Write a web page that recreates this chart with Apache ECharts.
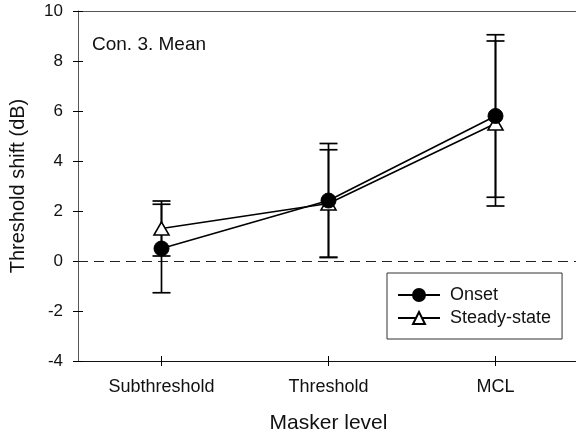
<!DOCTYPE html>
<html>
<head>
<meta charset="utf-8">
<script src="https://cdn.jsdelivr.net/npm/echarts@6/dist/echarts.min.js"></script>
<style>html,body{margin:0;padding:0;background:#fff}#c{width:576px;height:435px}</style>
</head>
<body>
<div id="c"></div>
<script>
var categories = ['Subthreshold', 'Threshold', 'MCL'];
var onsetMean = [0.5, 2.42, 5.8];
var onsetErr = [1.77, 2.28, 3.25];
var steadyMean = [1.3, 2.3, 5.5];
var steadyErr = [1.1, 2.15, 3.3];
var yTicks = {min: -4, max: 10, interval: 2};
var zeroLine = [0];

var FONT = 'Liberation Sans, Arial, sans-serif';
var chart = echarts.init(document.getElementById('c'), null, {renderer: 'canvas'});

function errData(mean, err) {
  return mean.map(function (m, i) { return [i, m - err[i], m + err[i]]; });
}
function renderErr(params, api) {
  var x = api.value(0);
  var lo = api.coord([x, api.value(1)]);
  var hi = api.coord([x, api.value(2)]);
  var hw = 9;
  var st = {stroke: '#000', lineWidth: 1.7};
  return {
    type: 'group',
    children: [
      {type: 'line', shape: {x1: lo[0], y1: lo[1], x2: hi[0], y2: hi[1]}, style: st},
      {type: 'line', shape: {x1: lo[0] - hw, y1: lo[1], x2: lo[0] + hw, y2: lo[1]}, style: st},
      {type: 'line', shape: {x1: hi[0] - hw, y1: hi[1], x2: hi[0] + hw, y2: hi[1]}, style: st}
    ]
  };
}
function renderZero(params, api) {
  var cs = params.coordSys;
  var p = api.coord([0, api.value(0)]);
  var y = Math.round(p[1]) + 0.5;
  return {
    type: 'line',
    shape: {x1: cs.x, y1: y, x2: cs.x + cs.width, y2: y},
    style: {stroke: '#222', lineWidth: 1, lineDash: [10, 6]}
  };
}

var tickStyle = {color: '#000', width: 1};

var option = {
  animation: false,
  grid: {left: 78, top: 11, width: 501, height: 350, show: false,
         outerBoundsMode: 'none', containLabel: false},
  legend: {
    orient: 'vertical',
    left: 387, top: 273,
    padding: [13, 11, 12, 10],
    itemGap: 5,
    itemWidth: 42, itemHeight: 15,
    borderColor: '#333', borderWidth: 1,
    textStyle: {color: '#111', fontFamily: FONT, fontSize: 18, padding: [0, 0, 0, 5], lineHeight: 18},
    data: ['Onset', 'Steady-state']
  },
  xAxis: [{
    type: 'category', data: categories, gridIndex: 0, position: 'bottom',
    axisLine: {onZero: false, lineStyle: {color: '#111', width: 1}},
    axisTick: {show: true, interval: 0, alignWithLabel: true, length: 5, lineStyle: tickStyle},
    axisLabel: {margin: 17, color: '#111', fontFamily: FONT, fontSize: 18},
    name: 'Masker level', nameLocation: 'middle', nameGap: 52,
    nameTextStyle: {color: '#111', fontFamily: FONT, fontSize: 21}
  }, {
    type: 'category', data: categories, gridIndex: 0, position: 'bottom',
    axisLine: {show: false, onZero: false},
    axisTick: {show: true, interval: 0, alignWithLabel: true, inside: true, length: 5, lineStyle: tickStyle},
    axisLabel: {show: false}
  }, {
    type: 'category', data: categories, gridIndex: 0, position: 'top',
    axisLine: {show: true, onZero: false, lineStyle: {color: '#555', width: 1}},
    axisTick: {show: false},
    axisLabel: {show: false}
  }],
  yAxis: [{
    type: 'value', min: yTicks.min, max: yTicks.max, interval: yTicks.interval,
    axisLine: {show: true, onZero: false, lineStyle: {color: '#555', width: 1}},
    axisTick: {show: true, length: 5, lineStyle: tickStyle},
    splitLine: {show: false},
    axisLabel: {margin: 15, color: '#111', fontFamily: FONT, fontSize: 17},
    name: 'Threshold shift (dB)', nameLocation: 'middle', nameGap: 50,
    nameTextStyle: {color: '#111', fontFamily: FONT, fontSize: 20}
  }, {
    type: 'value', min: yTicks.min, max: yTicks.max, interval: yTicks.interval, position: 'left',
    axisLine: {show: false, onZero: false},
    axisTick: {show: true, inside: true, length: 5, lineStyle: tickStyle},
    splitLine: {show: false},
    axisLabel: {show: false}
  }],
  graphic: [{
    type: 'text', left: 92, top: 35,
    style: {text: 'Con. 3. Mean', fill: '#111', font: '19px ' + FONT}
  }],
  series: [
    {
      type: 'custom', name: 'zero', renderItem: renderZero, silent: true, z: 1,
      data: zeroLine.map(function (v) { return [v]; }), encode: {y: 0}
    },
    {
      type: 'custom', name: 'errOnset', renderItem: renderErr, data: errData(onsetMean, onsetErr), z: 3,
      encode: {x: 0, y: [1, 2]}
    },
    {
      type: 'custom', name: 'errSteady', renderItem: renderErr, data: errData(steadyMean, steadyErr), z: 3,
      encode: {x: 0, y: [1, 2]}
    },
    {
      type: 'line', name: 'Steady-state', data: steadyMean, z: 4,
      symbol: 'triangle', symbolSize: [15, 13],
      lineStyle: {color: '#000', width: 1.6},
      itemStyle: {color: '#fff', borderColor: '#000', borderWidth: 1.6}
    },
    {
      type: 'line', name: 'Onset', data: onsetMean, z: 5,
      symbol: 'circle', symbolSize: 15,
      lineStyle: {color: '#000', width: 1.6},
      itemStyle: {color: '#000', borderColor: '#000', borderWidth: 1}
    }
  ]
};
chart.setOption(option);
</script>
</body>
</html>
